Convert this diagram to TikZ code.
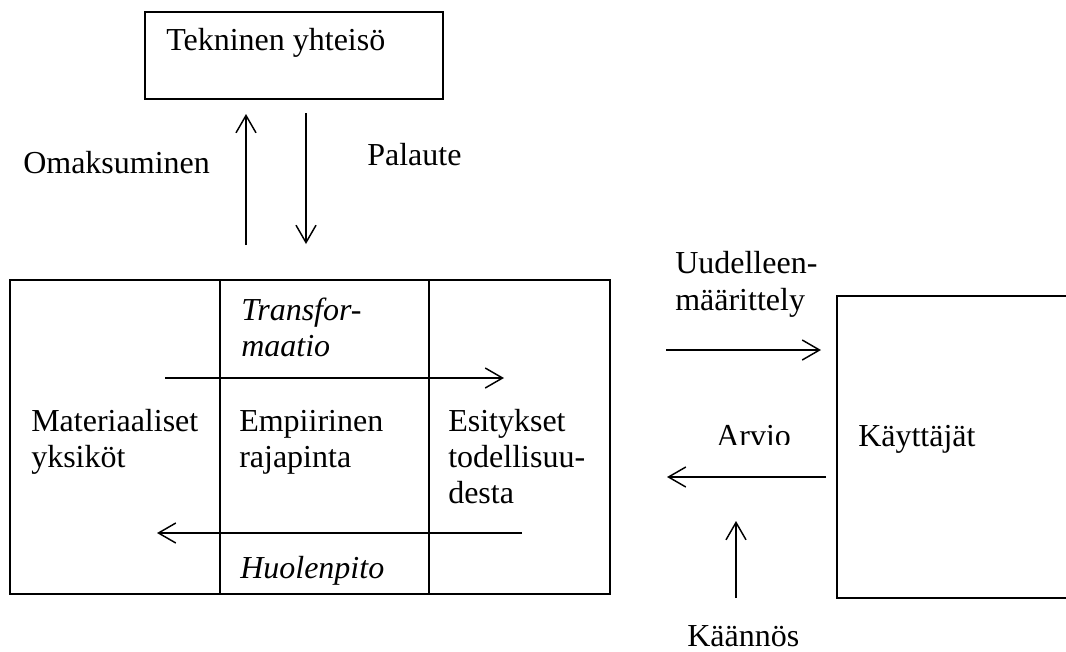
\documentclass[tikz,border=0pt]{standalone}
\usepackage{fontspec}
\setmainfont{Liberation Serif}
\usetikzlibrary{arrows.meta}
\begin{document}
\begin{tikzpicture}[x=0.75pt,y=-0.75pt,
  box/.style={line width=1.1pt},
  flow/.style={line width=1.1pt,-{Straight Barb[length=13pt,width=15pt,line width=1.1pt]}},
  lbl/.style={anchor=base west,inner sep=0pt,font=\fontsize{24}{27}\selectfont},
  ilbl/.style={anchor=base west,inner sep=0pt,font=\fontsize{24}{27}\selectfont\itshape}]
\useasboundingbox (0,0) rectangle (1066,651);

% boxes
\coordinate (tekNW) at (145,12);
\coordinate (tekSE) at (443,99);
\draw[box] (tekNW) rectangle (tekSE);

\coordinate (mainNW) at (10,280);
\coordinate (mainSE) at (610,594);
\draw[box] (mainNW) rectangle (mainSE);
\coordinate (divAt) at (220,280);
\coordinate (divAb) at (220,594);
\coordinate (divBt) at (429,280);
\coordinate (divBb) at (429,594);
\draw[box] (divAt) -- (divAb);
\draw[box] (divBt) -- (divBb);

\coordinate (kayTR) at (1066,296);
\coordinate (kayTL) at (837,296);
\coordinate (kayBL) at (837,598);
\coordinate (kayBR) at (1066,598);
\draw[box] (kayTR) -- (kayTL) -- (kayBL) -- (kayBR);

% labels
\node[lbl] (tek) at (166,50) {Tekninen yhteisö};
\node[lbl] (oma) at (23,173) {Omaksuminen};
\node[lbl] (pal) at (367,165) {Palaute};
\node[ilbl] (tra1) at (241,320) {Transfor-};
\node[ilbl] (tra2) at (241,356) {maatio};
\node[lbl] (mat1) at (31,431) {Materiaaliset};
\node[lbl] (mat2) at (31,467) {yksiköt};
\node[lbl] (emp1) at (239,431) {Empiirinen};
\node[lbl] (emp2) at (239,467) {rajapinta};
\node[lbl] (esi1) at (448,431) {Esitykset};
\node[lbl] (esi2) at (448,467) {todellisuu-};
\node[lbl] (esi3) at (448,503) {desta};
\node[ilbl] (huo) at (240,578) {Huolenpito};
\node[lbl] (uud1) at (675,273) {Uudelleen-};
\node[lbl] (uud2) at (675,310) {määrittely};
\begin{scope}
  \clip (700,400) rectangle (820,444);
  \node[lbl] (arv) at (716,446) {Arvio};
\end{scope}
\node[lbl] (kay) at (858,446) {Käyttäjät};
\node[lbl] (kaa) at (687,646) {Käännös};

% connectors
\coordinate (omaS) at (246,245);
\coordinate (omaE) at (246,114);
\coordinate (palS) at (306,113);
\coordinate (palE) at (306,244);
\coordinate (traS) at (165,378);
\coordinate (traE) at (504,378);
\coordinate (huoS) at (522,533);
\coordinate (huoE) at (157,533);
\coordinate (uudS) at (666,350);
\coordinate (uudE) at (821,350);
\coordinate (arvS) at (826,477);
\coordinate (arvE) at (667,477);
\coordinate (kaaS) at (736,598);
\coordinate (kaaE) at (736,521);
\draw[flow] (omaS) -- (omaE);
\draw[flow] (palS) -- (palE);
\draw[flow] (traS) -- (traE);
\draw[flow] (huoS) -- (huoE);
\draw[flow] (uudS) -- (uudE);
\draw[flow] (arvS) -- (arvE);
\draw[flow] (kaaS) -- (kaaE);
\end{tikzpicture}
\end{document}
